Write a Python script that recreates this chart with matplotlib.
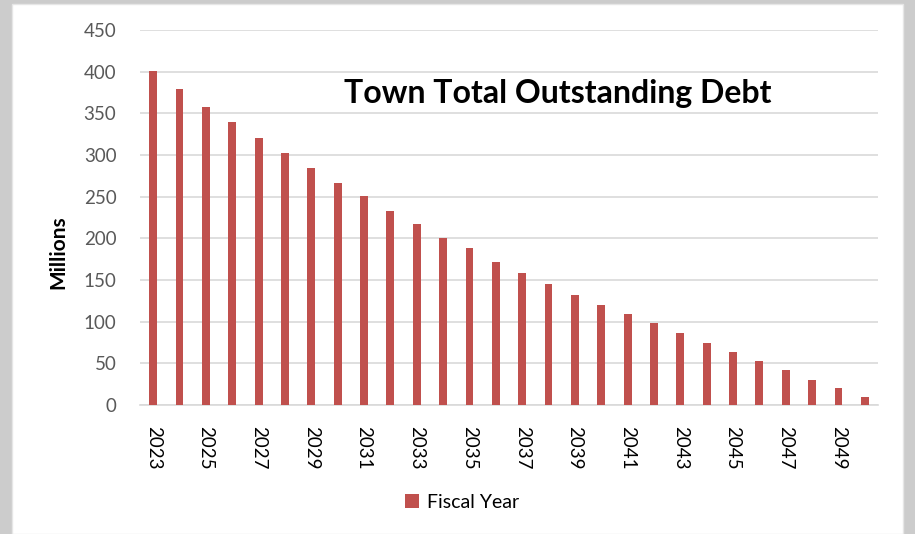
import numpy as np
import matplotlib
matplotlib.use("Agg")
import matplotlib.pyplot as plt
from matplotlib.patches import Rectangle

years = list(range(2023, 2051))
debt = [401, 379, 358, 340, 320, 302, 284, 266, 251, 233, 217, 201, 188, 172,
        158, 145, 132, 120, 109, 98, 86, 75, 64, 53, 42, 30, 21, 10]
y_ticks = [0, 50, 100, 150, 200, 250, 300, 350, 400, 450]

plt.rcParams['font.family'] = ['Lato', 'DejaVu Sans']

fig = plt.figure(figsize=(9.15, 5.34), dpi=100, facecolor='#cccccc')
fig.patches.append(Rectangle((12/915, 0), 891/915, 530/534, transform=fig.transFigure,
                             facecolor='white', edgecolor='#e6e6e6', lw=1, zorder=-5))

ax = fig.add_axes([140/915, 1 - 405/534, 738/915, 375/534])
ax.set_zorder(2)
ax.set_facecolor('none')
x = np.arange(len(years))
ax.bar(x, debt, width=0.3, color='#c0504d', zorder=3, label='Fiscal Year')

ax.set_xlim(-0.5, len(years) - 0.5)
ax.set_ylim(0, 450)
ax.set_yticks(y_ticks)
ax.set_yticklabels([str(v) for v in y_ticks], fontsize=13.5, color='#595959')
ax.yaxis.grid(True, color='#d9d9d9', lw=1.2, zorder=0)
ax.set_axisbelow(True)

ax.set_xticks(x[::2])
ax.set_xticklabels([str(y) for y in years[::2]], rotation=270, fontsize=13.5, color='black',
                   va='top', ha='center')
ax.tick_params(axis='y', length=0, pad=17)
ax.tick_params(axis='x', length=0, pad=15)

for s in ['top', 'right', 'left']:
    ax.spines[s].set_visible(False)
ax.spines['bottom'].set_color('#d9d9d9')
ax.spines['bottom'].set_linewidth(1.2)

ax.set_ylabel('Millions', fontsize=15, fontweight='bold')
ax.yaxis.set_label_coords((68 - 140) / 738, (405 - 252) / 375)
title = fig.text(558/915, 1 - 94/534, 'Town Total Outstanding Debt',
                 fontsize=23, fontweight='bold', ha='center', va='center')
title.set_zorder(5)

leg = fig.legend(loc='center', bbox_to_anchor=(462/915, 1 - 502/534), frameon=False,
                 fontsize=14, handlelength=0.7, handleheight=0.7, handletextpad=0.4)
leg.set_zorder(5)

fig.savefig('out.png', dpi=100, facecolor=fig.get_facecolor())
